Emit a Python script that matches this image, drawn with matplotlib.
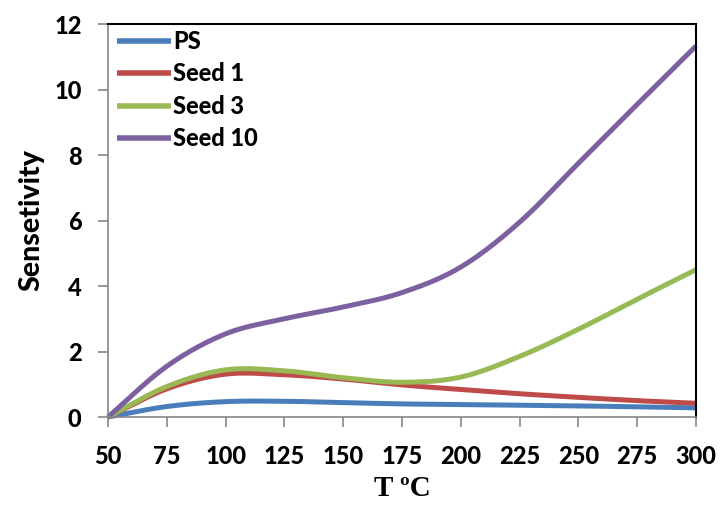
import numpy as np
import matplotlib
matplotlib.use("Agg")
import matplotlib.pyplot as plt

T = [50, 75, 100, 125, 150, 175, 200, 225, 250, 275, 300]
ps = [0.0, 0.32, 0.47, 0.48, 0.44, 0.40, 0.38, 0.36, 0.34, 0.31, 0.28]
seed1 = [0.0, 0.86, 1.31, 1.29, 1.16, 0.98, 0.84, 0.71, 0.60, 0.50, 0.42]
seed3 = [0.0, 0.93, 1.44, 1.41, 1.20, 1.06, 1.22, 1.85, 2.68, 3.60, 4.50]
seed10 = [0.0, 1.55, 2.54, 3.00, 3.36, 3.80, 4.58, 5.95, 7.75, 9.55, 11.33]

labels = ["PS", "Seed 1", "Seed 3", "Seed 10"]
colors = ["#4A7EBB", "#BE4B48", "#98B954", "#7D60A0"]
xticks = [50, 75, 100, 125, 150, 175, 200, 225, 250, 275, 300]
yticks = [0, 2, 4, 6, 8, 10, 12]


def smooth(x, y, n=30):
    # Catmull-Rom spline through the data points (Excel-like smoothing)
    x = np.asarray(x, float)
    y = np.asarray(y, float)
    px = np.concatenate([[2 * x[0] - x[1]], x, [2 * x[-1] - x[-2]]])
    py = np.concatenate([[2 * y[0] - y[1]], y, [2 * y[-1] - y[-2]]])
    xs, ys = [], []
    t = np.linspace(0, 1, n, endpoint=False)
    for i in range(1, len(px) - 2):
        for arr, out in ((px, xs), (py, ys)):
            p0, p1, p2, p3 = arr[i - 1], arr[i], arr[i + 1], arr[i + 2]
            out.append(0.5 * ((2 * p1) + (-p0 + p2) * t
                              + (2 * p0 - 5 * p1 + 4 * p2 - p3) * t ** 2
                              + (-p0 + 3 * p1 - 3 * p2 + p3) * t ** 3))
    xs = np.concatenate(xs + [[x[-1]]])
    ys = np.concatenate(ys + [[y[-1]]])
    return xs, ys


SANS = "Lato"
W = "black"

fig = plt.figure(figsize=(7.2, 5.07), dpi=100)
ax = fig.add_axes([0.15, 0.1775, 0.8167, 0.775])

for vals, lab, c in zip([ps, seed1, seed3, seed10], labels, colors):
    sx, sy = smooth(T, vals)
    ax.plot(sx, sy, color=c, lw=3.6, label=lab, solid_capstyle="butt", clip_on=False)

ax.set_xlim(50, 300)
ax.set_ylim(0, 12)
ax.set_xticks(xticks)
ax.set_yticks(yticks)

for s in ["left", "bottom"]:
    ax.spines[s].set_color("#868686")
    ax.spines[s].set_linewidth(1.2)
for s in ["top", "right"]:
    ax.spines[s].set_color("black")
    ax.spines[s].set_linewidth(1.5)

ax.tick_params(axis="both", direction="out", length=7, width=1.2, color="#868686")
ax.tick_params(axis="y", pad=12)
ax.tick_params(axis="x", pad=13)
for lbl in ax.get_xticklabels() + ax.get_yticklabels():
    lbl.set_fontfamily(SANS)
    lbl.set_fontweight(W)
    lbl.set_fontsize(17)

ax.set_ylabel("Sensetivity", fontfamily=SANS, fontweight=W, fontsize=20.5, labelpad=7)
ax.set_xlabel("T ºC", fontfamily="Liberation Serif", fontweight="bold", fontsize=21, labelpad=5)

leg = ax.legend(loc="upper left", bbox_to_anchor=(0.015, 0.985), frameon=False,
                borderaxespad=0, borderpad=0, handlelength=2.3, handletextpad=0.1,
                labelspacing=0.4, prop={"family": SANS, "weight": W, "size": 17})
for h in leg.get_lines():
    h.set_linewidth(4.0)

fig.savefig("out.png", dpi=100)
